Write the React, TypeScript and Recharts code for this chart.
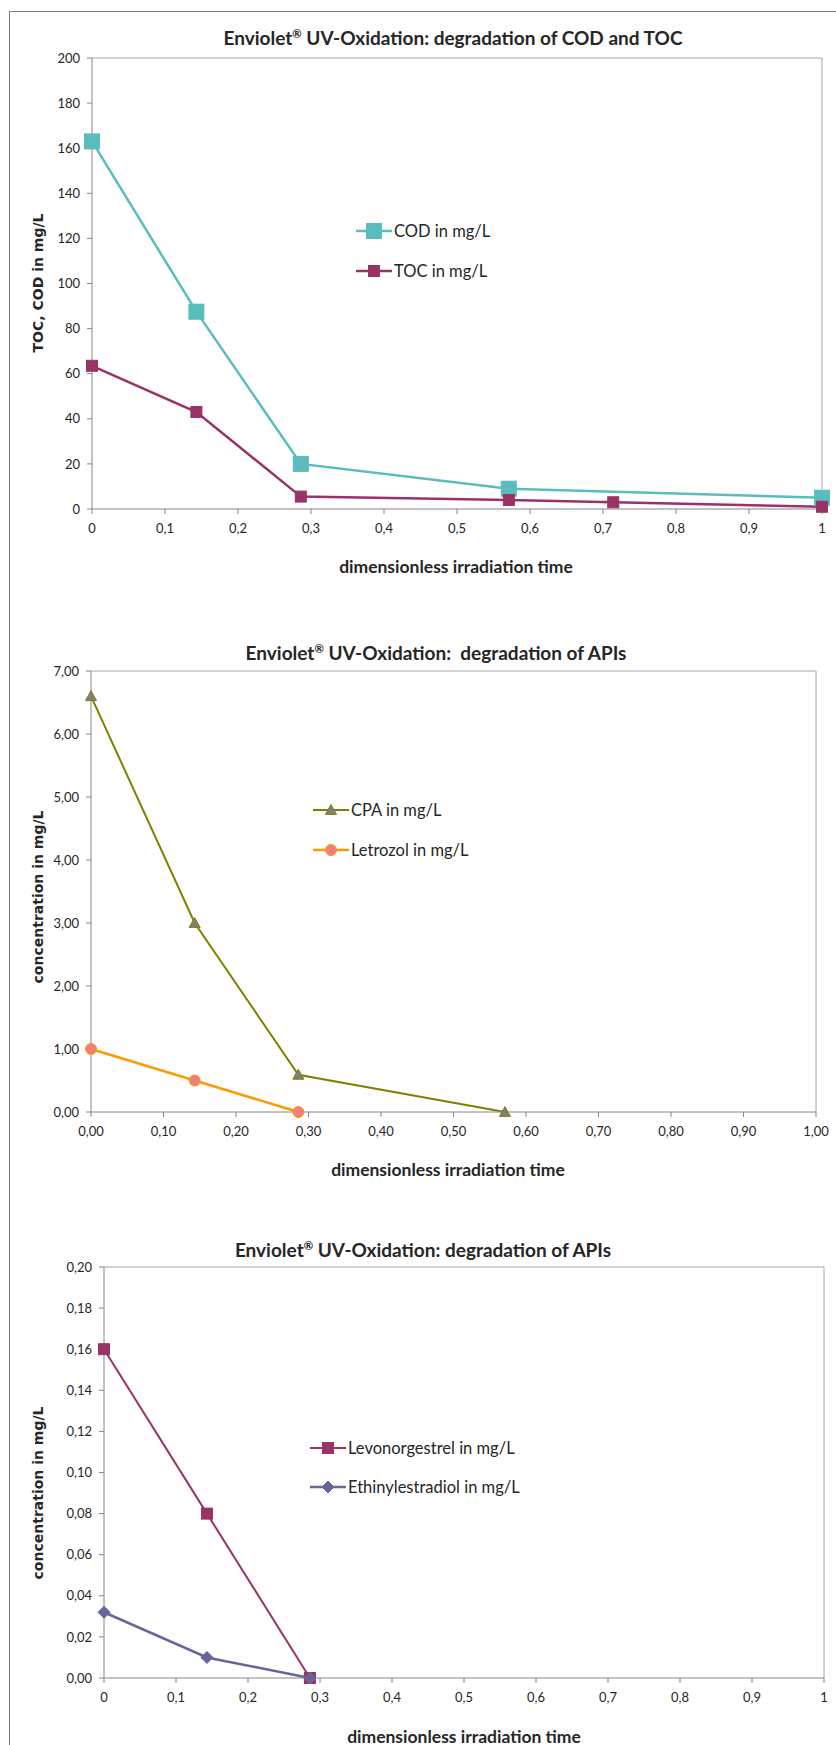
import React from "react";
import {
  LineChart,
  Line,
  XAxis,
  YAxis,
  ReferenceLine,
} from "recharts";

// chart 1: COD / TOC
const codTime = [0, 0.143, 0.286, 0.571, 0.714, 1];
const codValues = [163, 87.5, 20, 9, null, 5];
const tocValues = [63.5, 43, 5.5, 4, 3, 1];

// chart 2: CPA / Letrozol
const apiTime = [0, 0.143, 0.286, 0.571];
const cpaValues = [6.6, 3.0, 0.59, 0];
const letrozolValues = [1.0, 0.5, 0, null];

// chart 3: hormones
const hormoneTime = [0, 0.143, 0.286];
const levonorgestrelValues = [0.16, 0.08, 0];
const ethinylestradiolValues = [0.032, 0.01, 0];

// ticks
const xTicks = [0, 0.1, 0.2, 0.3, 0.4, 0.5, 0.6, 0.7, 0.8, 0.9, 1];
const xLabelsShort = ["0", "0,1", "0,2", "0,3", "0,4", "0,5", "0,6", "0,7", "0,8", "0,9", "1"];
const xLabelsLong = ["0,00", "0,10", "0,20", "0,30", "0,40", "0,50", "0,60", "0,70", "0,80", "0,90", "1,00"];
const codTicks = [0, 20, 40, 60, 80, 100, 120, 140, 160, 180, 200];
const codLabels = ["0", "20", "40", "60", "80", "100", "120", "140", "160", "180", "200"];
const apiTicks = [0, 1, 2, 3, 4, 5, 6, 7];
const apiLabels = ["0,00", "1,00", "2,00", "3,00", "4,00", "5,00", "6,00", "7,00"];
const hormoneTicks = [0, 0.02, 0.04, 0.06, 0.08, 0.1, 0.12, 0.14, 0.16, 0.18, 0.2];
const hormoneLabels = ["0,00", "0,02", "0,04", "0,06", "0,08", "0,10", "0,12", "0,14", "0,16", "0,18", "0,20"];

const codData = codTime.map((t, i) => ({ t, cod: codValues[i], toc: tocValues[i] }));
const apiData = apiTime.map((t, i) => ({ t, cpa: cpaValues[i], letrozol: letrozolValues[i] }));
const hormoneData = hormoneTime.map((t, i) => ({
  t,
  levo: levonorgestrelValues[i],
  ethinyl: ethinylestradiolValues[i],
}));

const FONT = "Lato, 'Open Sans', sans-serif";
const AXIS = "#868686";
const BORDER = "#a6a6a6";
const TEXT = "#262626";

const fmt = (ticks: number[], labels: string[]) => (v: number) => {
  const i = ticks.findIndex((t) => Math.abs(t - v) < 1e-9);
  return i >= 0 ? labels[i] : "";
};

type Shape = "square" | "triangle" | "circle" | "diamond";

const Marker = ({ shape, cx, cy, size, fill, stroke }: any) => {
  const h = size / 2;
  if (shape === "square")
    return <rect x={cx - h} y={cy - h} width={size} height={size} fill={fill} stroke={stroke} strokeWidth={1} />;
  if (shape === "circle") return <circle cx={cx} cy={cy} r={h} fill={fill} stroke={stroke} strokeWidth={1} />;
  if (shape === "triangle")
    return (
      <polygon
        points={`${cx},${cy - h} ${cx + h},${cy + h * 0.8} ${cx - h},${cy + h * 0.8}`}
        fill={fill}
        stroke={stroke}
        strokeWidth={1}
      />
    );
  return (
    <polygon
      points={`${cx},${cy - h} ${cx + h},${cy} ${cx},${cy + h} ${cx - h},${cy}`}
      fill={fill}
      stroke={stroke}
      strokeWidth={1}
    />
  );
};

const makeDot = (shape: Shape, size: number, fill: string, stroke: string) => (p: any) => {
  const { cx, cy, index, value } = p;
  if (cx == null || cy == null || value == null) return <g key={`d-${index}`} />;
  return (
    <g key={`d-${index}`}>
      <Marker shape={shape} cx={cx} cy={cy} size={size} fill={fill} stroke={stroke} />
    </g>
  );
};

interface LegendItem {
  label: string;
  color: string;
  shape: Shape;
  size: number;
  fill: string;
  width: number;
}

const LegendBox = ({ items, left, top, gap }: { items: LegendItem[]; left: number; top: number; gap: number }) => (
  <div style={{ position: "absolute", left, top, fontFamily: FONT, fontSize: 16.5, color: TEXT }}>
    {items.map((it, i) => (
      <div key={it.label} style={{ position: "absolute", top: i * gap - 10, left: 0, display: "flex", alignItems: "center", whiteSpace: "nowrap", height: 20 }}>
        <svg width={36} height={20}>
          <line x1={0} y1={10} x2={36} y2={10} stroke={it.color} strokeWidth={it.width} />
          <Marker shape={it.shape} cx={18} cy={10} size={it.size} fill={it.fill} stroke={it.color} />
        </svg>
        <span style={{ marginLeft: 2 }}>{it.label}</span>
      </div>
    ))}
  </div>
);

const Title = ({ x, y, children }: any) => (
  <div
    style={{
      position: "absolute",
      left: x,
      top: y,
      transform: "translate(-50%, -50%)",
      fontFamily: FONT,
      fontWeight: 700,
      fontSize: 19,
      color: TEXT,
      whiteSpace: "nowrap",
    }}
  >
    {children}
  </div>
);

const XTitle = ({ x, y }: { x: number; y: number }) => (
  <div
    style={{
      position: "absolute",
      left: x,
      top: y,
      transform: "translate(-50%, -50%)",
      fontFamily: FONT,
      fontWeight: 700,
      fontSize: 17.5,
      color: TEXT,
      whiteSpace: "nowrap",
    }}
  >
    dimensionless irradiation time
  </div>
);

const YTitle = ({ x, y, text }: { x: number; y: number; text: string }) => (
  <div
    style={{
      position: "absolute",
      left: x,
      top: y,
      transform: "translate(-50%, -50%) rotate(-90deg)",
      fontFamily: "'DejaVu Sans'",
      fontWeight: 700,
      fontSize: 14,
      color: TEXT,
      whiteSpace: "nowrap",
    }}
  >
    {text}
  </div>
);

const Brand = () => (
  <>
    Enviolet<span style={{ fontSize: "0.6em", verticalAlign: "0.6em" }}>®</span>
  </>
);

const tickStyle = { fontFamily: FONT, fontSize: 13, fill: TEXT };

const App = () => {
  return (
    <div style={{ position: "absolute", left: 0, top: 0, width: 836, height: 1745, overflow: "hidden", background: "#fff" }}>
      <div style={{ position: "absolute", left: 9, top: 11, width: 900, height: 1800, border: "1px solid #7f7f7f" }} />

      {/* chart 1 */}
      <div style={{ position: "absolute", left: 0, top: 0 }}>
        <LineChart width={836} height={600} data={codData} margin={{ top: 58, right: 14, bottom: 51, left: 32 }}>
          <XAxis
            dataKey="t"
            type="number"
            domain={[0, 1]}
            ticks={xTicks}
            tickFormatter={fmt(xTicks, xLabelsShort)}
            stroke={AXIS}
            tickSize={5}
            tickMargin={10}
            height={40}
            tick={tickStyle}
            interval={0}
          />
          <YAxis
            type="number"
            domain={[0, 200]}
            ticks={codTicks}
            tickFormatter={fmt(codTicks, codLabels)}
            stroke={AXIS}
            tickSize={5}
            tickMargin={7}
            width={60}
            tick={tickStyle}
            interval={0}
          />
          <ReferenceLine y={200} stroke={BORDER} />
          <ReferenceLine x={1} stroke={BORDER} />
          <Line
            dataKey="cod"
            stroke="#5abcbc"
            strokeWidth={2.5}
            connectNulls
            dot={makeDot("square", 15, "#5abcbc", "#5abcbc")}
            isAnimationActive={false}
          />
          <Line
            dataKey="toc"
            stroke="#993366"
            strokeWidth={2.5}
            dot={makeDot("square", 11, "#993366", "#993366")}
            isAnimationActive={false}
          />
        </LineChart>
      </div>
      <Title x={453} y={37}>
        <Brand /> UV-Oxidation: degradation of COD and TOC
      </Title>
      <XTitle x={456} y={566} />
      <YTitle x={38} y={283} text="TOC, COD in mg/L" />
      <LegendBox
        left={356}
        top={231}
        gap={40}
        items={[
          { label: "COD in mg/L", color: "#5abcbc", shape: "square", size: 15, fill: "#5abcbc", width: 2.5 },
          { label: "TOC in mg/L", color: "#993366", shape: "square", size: 11, fill: "#993366", width: 2.5 },
        ]}
      />

      {/* chart 2 */}
      <div style={{ position: "absolute", left: 0, top: 600 }}>
        <LineChart width={836} height={600} data={apiData} margin={{ top: 71, right: 20, bottom: 48, left: 31 }}>
          <XAxis
            dataKey="t"
            type="number"
            domain={[0, 1]}
            ticks={xTicks}
            tickFormatter={fmt(xTicks, xLabelsLong)}
            stroke={AXIS}
            tickSize={5}
            tickMargin={10}
            height={40}
            tick={tickStyle}
            interval={0}
          />
          <YAxis
            type="number"
            domain={[0, 7]}
            ticks={apiTicks}
            tickFormatter={fmt(apiTicks, apiLabels)}
            stroke={AXIS}
            tickSize={5}
            tickMargin={7}
            width={60}
            tick={tickStyle}
            interval={0}
          />
          <ReferenceLine y={7} stroke={BORDER} />
          <ReferenceLine x={1} stroke={BORDER} />
          <Line
            dataKey="cpa"
            stroke="#808000"
            strokeWidth={2}
            dot={makeDot("triangle", 11, "#7f7f7f", "#808000")}
            isAnimationActive={false}
          />
          <Line
            dataKey="letrozol"
            stroke="#ff9900"
            strokeWidth={2.5}
            dot={makeDot("circle", 11, "#f08080", "#ff9900")}
            isAnimationActive={false}
          />
        </LineChart>
      </div>
      <Title x={436} y={652}>
        <Brand /> UV-Oxidation:&nbsp; degradation of APIs
      </Title>
      <XTitle x={448} y={1169} />
      <YTitle x={38} y={897} text="concentration in mg/L" />
      <LegendBox
        left={313}
        top={810}
        gap={40}
        items={[
          { label: "CPA in mg/L", color: "#808000", shape: "triangle", size: 11, fill: "#7f7f7f", width: 2 },
          { label: "Letrozol in mg/L", color: "#ff9900", shape: "circle", size: 11, fill: "#f08080", width: 2.5 },
        ]}
      />

      {/* chart 3 */}
      <div style={{ position: "absolute", left: 0, top: 1200 }}>
        <LineChart width={836} height={545} data={hormoneData} margin={{ top: 67, right: 12, bottom: 27, left: 44 }}>
          <XAxis
            dataKey="t"
            type="number"
            domain={[0, 1]}
            ticks={xTicks}
            tickFormatter={fmt(xTicks, xLabelsShort)}
            stroke={AXIS}
            tickSize={5}
            tickMargin={10}
            height={40}
            tick={tickStyle}
            interval={0}
          />
          <YAxis
            type="number"
            domain={[0, 0.2]}
            ticks={hormoneTicks}
            tickFormatter={fmt(hormoneTicks, hormoneLabels)}
            stroke={AXIS}
            tickSize={5}
            tickMargin={7}
            width={60}
            tick={tickStyle}
            interval={0}
          />
          <ReferenceLine y={0.2} stroke={BORDER} />
          <ReferenceLine x={1} stroke={BORDER} />
          <Line
            dataKey="levo"
            stroke="#993366"
            strokeWidth={2}
            dot={makeDot("square", 11, "#993366", "#993366")}
            isAnimationActive={false}
          />
          <Line
            dataKey="ethinyl"
            stroke="#666699"
            strokeWidth={2.5}
            dot={makeDot("diamond", 12, "#666699", "#666699")}
            isAnimationActive={false}
          />
        </LineChart>
      </div>
      <Title x={423} y={1249}>
        <Brand /> UV-Oxidation: degradation of APIs
      </Title>
      <XTitle x={464} y={1736} />
      <YTitle x={38} y={1493} text="concentration in mg/L" />
      <LegendBox
        left={310}
        top={1448}
        gap={39}
        items={[
          { label: "Levonorgestrel in mg/L", color: "#993366", shape: "square", size: 11, fill: "#993366", width: 2 },
          { label: "Ethinylestradiol in mg/L", color: "#666699", shape: "diamond", size: 12, fill: "#666699", width: 2.5 },
        ]}
      />
    </div>
  );
};

export default App;
